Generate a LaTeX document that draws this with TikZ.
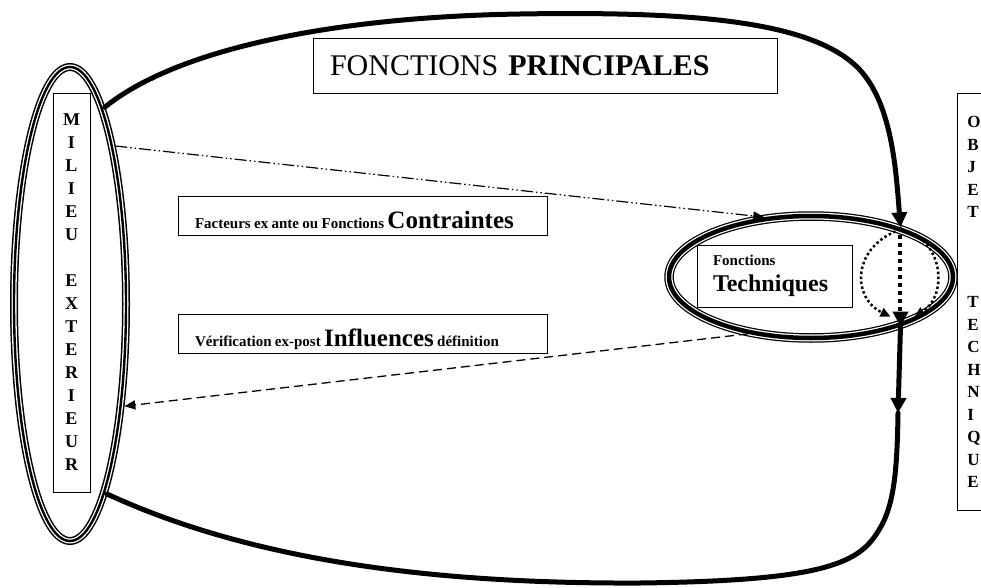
\documentclass[tikz,border=0pt]{standalone}
\usepackage{fontspec}
\setmainfont{Liberation Serif}
\usetikzlibrary{shapes, arrows.meta, positioning, calc}

\tikzset{
  blob/.style={line width=5pt, line cap=round, line join=round},
  bigtip/.style={-{Triangle[length=15pt, width=15pt]}},
  lbox/.style={draw, line width=0.8pt, inner sep=0pt},
  triple/.style={ellipse, draw, line width=2.4pt, inner sep=0pt, outer sep=4pt,
    preaction={draw, line width=8pt}, preaction={draw=white, line width=5pt}},
  thickthin/.style={ellipse, draw, line width=4.5pt, inner sep=0pt,
    preaction={draw, line width=9.5pt}, preaction={draw=white, line width=7pt}},
  dotarc/.style={line width=2.5pt, dash pattern=on 2.5pt off 2.5pt,
    -{Triangle[length=10pt, width=9pt]}},
}

\begin{document}
\begin{tikzpicture}[x=1pt, y=-1pt]
  \clip (0,0) rectangle (981,588);

  % Milieu exterieur
  \node[triple, minimum width=112pt, minimum height=474pt] (milieu) at (70,304) {};
  \node[lbox, minimum width=37pt, minimum height=399pt, align=center,
    font=\bfseries\fontsize{18pt}{23pt}\selectfont] (milieutxt) at (71.5,292.5)
    {M\\I\\L\\I\\E\\U\\~\\E\\X\\T\\E\\R\\I\\E\\U\\R};

  % Titre
  \node[lbox, minimum width=464pt, minimum height=55pt, text width=430pt, inner xsep=17pt,
    align=left, font=\fontsize{30pt}{34pt}\selectfont] (princ) at (545,65.5)
    {FONCTIONS \textbf{PRINCIPALES}};

  % Fonctions techniques
  \node[thickthin, minimum width=284pt, minimum height=122pt] (tech) at (811,277) {};
  \node[lbox, minimum width=155pt, minimum height=62pt, text width=123pt, inner xsep=16pt,
    align=left, font=\bfseries] (techtxt) at (774.5,276)
    {{\fontsize{15pt}{17pt}\selectfont Fonctions}\\[8pt]
     {\fontsize{24pt}{24pt}\selectfont Techniques}};

  % Contraintes / influences
  \node[lbox, minimum width=369pt, text width=335pt, inner xsep=17pt, align=left,
    text height=27pt, text depth=1.5pt, inner ysep=5pt, font=\bfseries] (contr) at (362.5,216)
    {{\fontsize{15pt}{18pt}\selectfont Facteurs ex ante ou Fonctions}
     {\fontsize{25pt}{28pt}\selectfont Contraintes}};
  \node[lbox, minimum width=369pt, text width=335pt, inner xsep=17pt, align=left,
    text height=27pt, text depth=1.5pt, inner ysep=5pt, font=\bfseries] (infl) at (362.5,334)
    {{\fontsize{15pt}{18pt}\selectfont Vérification ex-post}
     {\fontsize{25pt}{28pt}\selectfont Influences}
     {\fontsize{15pt}{18pt}\selectfont définition}};

  % Objet technique
  \node[lbox, anchor=north west, minimum width=70pt, minimum height=417pt, text width=50pt,
    inner xsep=9pt, align=left, font=\bfseries\fontsize{17pt}{22.5pt}\selectfont] (objet) at (957,93)
    {O\\B\\J\\E\\T\\~\\~\\~\\T\\E\\C\\H\\N\\I\\Q\\U\\E};

  % Contour
  \coordinate (low) at (898,413);
  \draw[blob, bigtip] (milieu.80) .. controls (175,50) and (330,17) .. (520,14)
    .. controls (700,11) and (815,22) .. (860,70)
    .. controls (892,105) and (896,170) .. (tech.29);
  \draw[blob, bigtip] (tech.-29) -- (low);
  \draw[blob] (low) .. controls (897,485) and (892,515) .. (872,540)
    .. controls (850,568) and (800,581) .. (640,583)
    .. controls (430,584) and (250,560) .. (milieu.-79);

  % Pointilles
  \draw[line width=4pt, dash pattern=on 4pt off 4pt, bigtip] (tech.29) -- (tech.-29);
  \draw[dotarc] ([xshift=-5pt,yshift=-4pt]tech.29) .. controls (852,250) and (852,298)
    .. ([xshift=-10pt,yshift=10pt]tech.-29);
  \draw[dotarc] ([xshift=15pt,yshift=-7pt]tech.29) .. controls (946,255) and (944,298)
    .. ([xshift=14pt,yshift=10pt]tech.-29);

  % Fleches
  \draw[line width=1.2pt, dash pattern=on 12pt off 3pt on 1.5pt off 3pt on 1.5pt off 3pt,
    -{Triangle[length=11pt, width=9pt]}] (milieu.74) -- (tech.128);
  \draw[line width=1.3pt, dash pattern=on 9pt off 5pt,
    -{Triangle[length=11pt, width=9pt]}] (tech.222) -- (milieu.-62);
\end{tikzpicture}
\end{document}
